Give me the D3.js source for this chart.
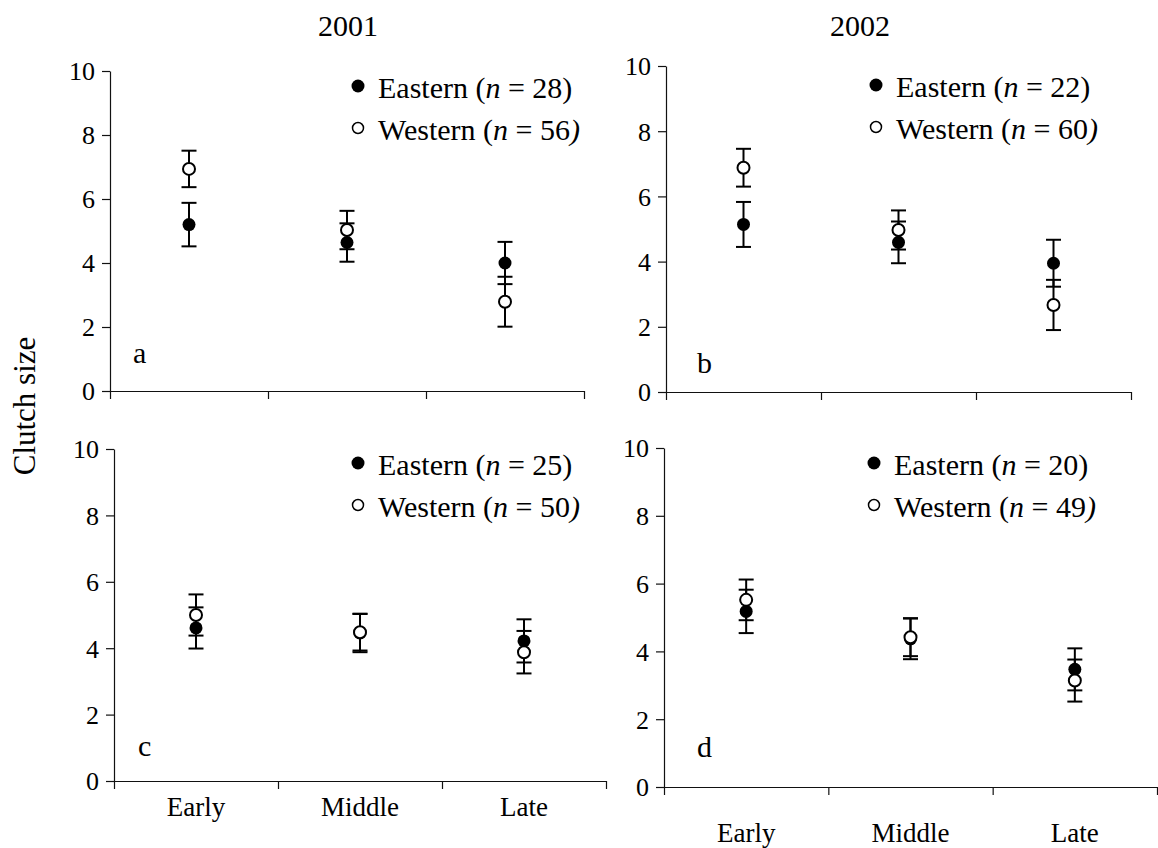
<!DOCTYPE html>
<html>
<head>
<meta charset="utf-8">
<script src="https://cdn.jsdelivr.net/npm/d3@7"></script>
<style>
  body { margin: 0; background: #fff; }
  svg, svg text { font-family: "Liberation Serif", "Times New Roman", Times, "DejaVu Serif", serif; fill: #000; }
</style>
</head>
<body>
<div id="chart"></div>
<script>

// categories and tick values
const categories = ['Early', 'Middle', 'Late'];
const yTicks = [0, 2, 4, 6, 8, 10];
const years = ['2001', '2002'];
const panelNames = ['a', 'b', 'c', 'd'];

// sample sizes per panel (eastern, western)
const eastN = [28, 22, 25, 20];
const westN = [56, 60, 50, 49];

// means and error (+/-), per panel
const eastMeanA = [5.20, 4.64, 4.00];
const eastErrA  = [0.68, 0.60, 0.66];
const westMeanA = [6.94, 5.03, 2.79];
const westErrA  = [0.57, 0.60, 0.78];

const eastMeanB = [5.14, 4.59, 3.95];
const eastErrB  = [0.69, 0.64, 0.72];
const westMeanB = [6.88, 4.97, 2.67];
const westErrB  = [0.58, 0.60, 0.77];

const eastMeanC = [4.61, 4.46, 4.22];
const eastErrC  = [0.62, 0.58, 0.65];
const westMeanC = [5.00, 4.48, 3.88];
const westErrC  = [0.62, 0.55, 0.64];

const eastMeanD = [5.18, 4.37, 3.47];
const eastErrD  = [0.64, 0.60, 0.62];
const westMeanD = [5.52, 4.42, 3.14];
const westErrD  = [0.60, 0.56, 0.62];

const eastMeans = [eastMeanA, eastMeanB, eastMeanC, eastMeanD];
const eastErrs  = [eastErrA, eastErrB, eastErrC, eastErrD];
const westMeans = [westMeanA, westMeanB, westMeanC, westMeanD];
const westErrs  = [westErrA, westErrB, westErrC, westErrD];

// panel frames (pixels)
const frames = [
  { x0: 110, x1: 584, top: 71, bottom: 391, lx: 133, ly: 363, legX: 358, legY: 86, catY: null },
  { x0: 666, x1: 1131, top: 66, bottom: 392, lx: 697, ly: 373, legX: 876, legY: 85, catY: null },
  { x0: 114, x1: 606, top: 449, bottom: 781, lx: 138, ly: 756, legX: 358, legY: 463, catY: 816 },
  { x0: 664, x1: 1157, top: 448, bottom: 787, lx: 697, ly: 757, legX: 874, legY: 463, catY: 842 }
];

const serif = '"Liberation Serif", "Times New Roman", Times, "DejaVu Serif", serif';
const width = 1158, height = 848;

const svg = d3.select('#chart')
  .append('svg')
    .attr('width', width)
    .attr('height', height)
    .attr('font-family', serif);

// column titles
svg.append('text')
  .attr('x', 348).attr('y', 36)
  .attr('text-anchor', 'middle')
  .attr('font-family', serif)
  .style('font-size', '30px')
  .text(years[0]);

svg.append('text')
  .attr('x', 860).attr('y', 36)
  .attr('text-anchor', 'middle')
  .attr('font-family', serif)
  .style('font-size', '30px')
  .text(years[1]);

// shared y label
svg.append('text')
  .attr('transform', 'translate(35,406) rotate(-90)')
  .attr('text-anchor', 'middle')
  .attr('font-family', serif)
  .style('font-size', '31px')
  .text('Clutch size');

frames.forEach(function(f, p) {

  const g = svg.append('g');

  const y = d3.scaleLinear().domain([0, 10]).range([f.bottom, f.top]);
  const xBand = d3.scaleBand().domain(categories).range([f.x0, f.x1]);
  const xEdge = d3.scaleLinear().domain([0, categories.length]).range([f.x0, f.x1]);
  const cx = function(c) { return xBand(c) + xBand.bandwidth() / 2; };

  // y axis
  const yAxis = g.append('g')
    .attr('transform', `translate(${f.x0},0)`)
    .call(d3.axisLeft(y).tickValues(yTicks).tickSize(8).tickSizeOuter(0).tickPadding(7));
  yAxis.attr('font-family', serif);
  yAxis.selectAll('text').style('font-size', '26px').attr('dy', '0.34em');

  // x axis (ticks at category boundaries)
  g.append('g')
    .attr('transform', `translate(0,${f.bottom})`)
    .call(d3.axisBottom(xEdge).tickValues(d3.range(categories.length + 1)).tickFormat('').tickSize(8).tickSizeOuter(0));

  g.selectAll('.domain, .tick line').attr('stroke', '#111').attr('stroke-width', 1.2);

  if (f.catY) {
    g.selectAll('.cat')
      .data(categories).enter()
      .append('text')
        .attr('x', cx)
        .attr('y', f.catY)
        .attr('text-anchor', 'middle')
        .attr('font-family', serif)
        .style('font-size', '27px')
        .text(function(d) { return d; });
  }

  // panel letter
  g.append('text')
    .attr('x', f.lx).attr('y', f.ly)
    .attr('font-family', serif)
    .style('font-size', '30px')
    .text(panelNames[p]);

  const series = [
    { means: eastMeans[p], errs: eastErrs[p], filled: true },
    { means: westMeans[p], errs: westErrs[p], filled: false }
  ];

  // error bars first
  series.forEach(function(s) {
    const bars = g.append('g').selectAll('g')
      .data(categories).enter()
      .append('g')
        .attr('stroke', '#000')
        .attr('stroke-width', 2);
    bars.append('line')
      .attr('x1', cx).attr('x2', cx)
      .attr('y1', function(d, i) { return y(s.means[i] - s.errs[i]); })
      .attr('y2', function(d, i) { return y(s.means[i] + s.errs[i]); });
    [-1, 1].forEach(function(sign) {
      bars.append('line')
        .attr('x1', function(d) { return cx(d) - 7.5; })
        .attr('x2', function(d) { return cx(d) + 7.5; })
        .attr('y1', function(d, i) { return y(s.means[i] + sign * s.errs[i]); })
        .attr('y2', function(d, i) { return y(s.means[i] + sign * s.errs[i]); });
    });
  });

  // points
  series.forEach(function(s) {
    g.append('g').selectAll('circle')
      .data(categories).enter()
      .append('circle')
        .attr('cx', cx)
        .attr('cy', function(d, i) { return y(s.means[i]); })
        .attr('r', s.filled ? 6.5 : 6)
        .attr('fill', s.filled ? '#000' : '#fff')
        .attr('stroke', '#000')
        .attr('stroke-width', s.filled ? 0 : 2);
  });

  // legend
  const leg = g.append('g');
  leg.append('circle')
    .attr('cx', f.legX).attr('cy', f.legY).attr('r', 6.5)
    .attr('fill', '#000');
  leg.append('circle')
    .attr('cx', f.legX).attr('cy', f.legY + 42).attr('r', 5.5)
    .attr('fill', '#fff').attr('stroke', '#000').attr('stroke-width', 1.5);

  const t1 = leg.append('text')
    .attr('x', f.legX + 20).attr('y', f.legY + 12)
    .attr('font-family', serif)
    .style('font-size', '30px');
  t1.append('tspan').text('Eastern (');
  t1.append('tspan').style('font-style', 'italic').text('n');
  t1.append('tspan').text(' = ' + eastN[p] + ')');

  const t2 = leg.append('text')
    .attr('x', f.legX + 20).attr('y', f.legY + 54)
    .attr('font-family', serif)
    .style('font-size', '30px');
  t2.append('tspan').text('Western (');
  t2.append('tspan').style('font-style', 'italic').text('n');
  t2.append('tspan').text(' = ' + westN[p]);
  t2.append('tspan').style('font-style', 'italic').text(')');
});

</script>
</body>
</html>
